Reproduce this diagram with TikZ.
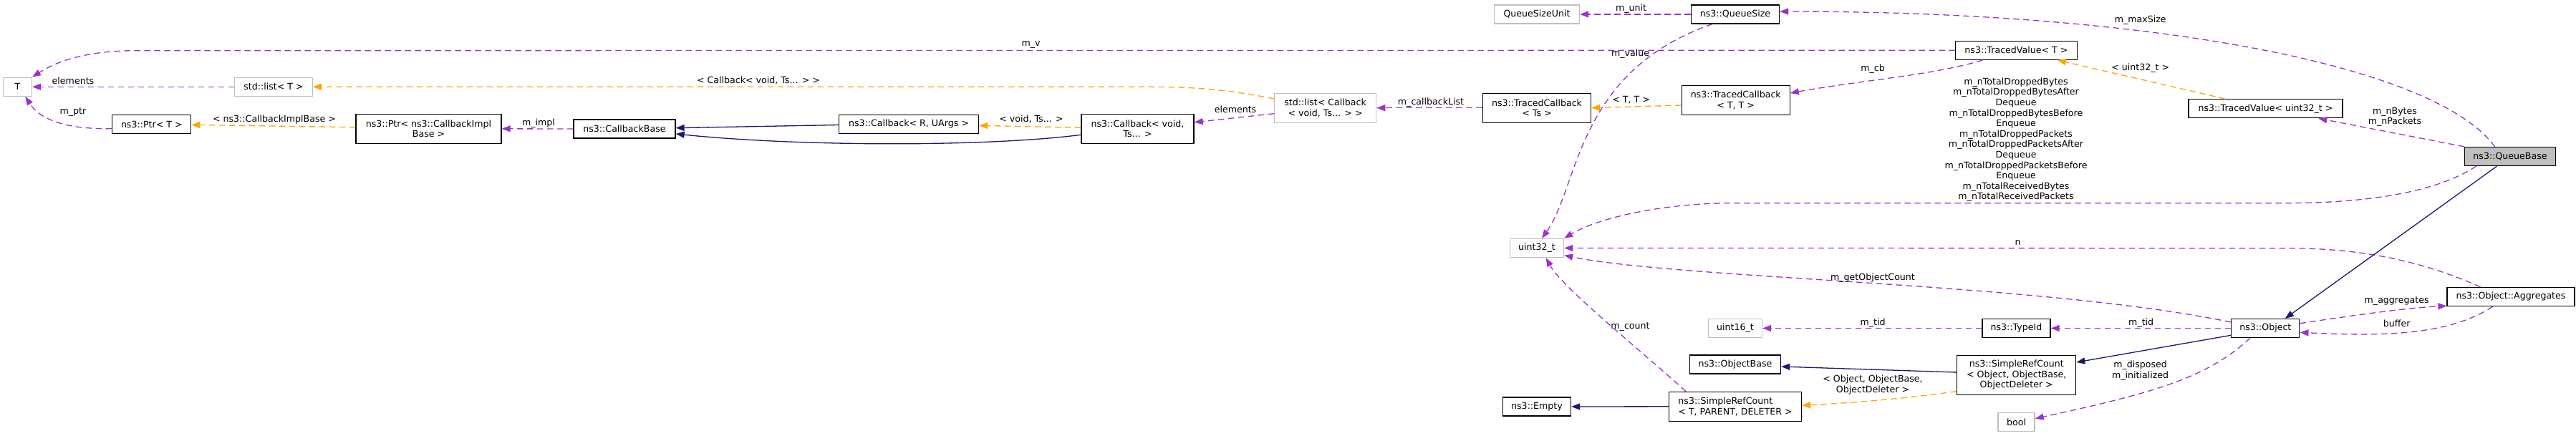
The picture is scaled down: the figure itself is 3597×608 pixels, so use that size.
\documentclass[tikz,border=0pt]{standalone}
\usepackage{fontspec}
\setmainfont{DejaVu Sans}
\usetikzlibrary{arrows.meta}
\definecolor{usecol}{HTML}{9A32CD}
\definecolor{tplcol}{HTML}{FFA500}
\definecolor{inhcol}{HTML}{191970}
\definecolor{extcol}{HTML}{BFBFBF}
\begin{document}
\begin{tikzpicture}[x=1pt,y=-1pt,
  every node/.style={font=\fontsize{12.6}{14.6}\selectfont, inner sep=0pt},
  cls/.style={draw=black, line width=1.3pt, fill=white, align=center},
  ext/.style={draw=extcol, line width=1.3pt, fill=white, align=center},
  cur/.style={draw=black, line width=1.3pt, fill=extcol, align=center},
  sz/.style 2 args={minimum width=#1pt, minimum height=#2pt},
  lbl/.style={align=center},
  tip/.style={-{Triangle[length=12pt,width=9pt]}},
  usearr/.style={tip, draw=usecol, line width=1.3pt, dash pattern=on 8.5pt off 5.5pt},
  tplarr/.style={tip, draw=tplcol, line width=1.3pt, dash pattern=on 8.5pt off 5.5pt},
  inharr/.style={tip, draw=inhcol, line width=1.3pt},
]
\useasboundingbox (0,0) rectangle (3597,608);

% nodes
\node[ext, sz={40}{26}] (T) at (24.4,121.3) {T};
\node[ext, sz={108.5}{26}] (listT) at (382,121.3) {std::list< T >};
\node[cls, sz={110}{26}] (PtrT) at (211.8,173.5) {ns3::Ptr< T >};
\node[cls, sz={203}{41}] (PtrCIB) at (598.5,179.8) {ns3::Ptr< ns3::CallbackImpl\\Base >};
\node[cls, sz={142}{26}] (CBB) at (872,180) {ns3::CallbackBase};
\node[cls, sz={195}{26}] (CbR) at (1269,173.5) {ns3::Callback< R, UArgs >};
\node[cls, sz={157}{41}] (CbV) at (1588.5,179.8) {ns3::Callback< void,\\Ts... >};
\node[ext, sz={142}{41}] (listCb) at (1850.6,150.7) {std::list< Callback\\< void, Ts... > >};
\node[ext, sz={119}{26}] (QSU) at (2146,20) {QueueSizeUnit};
\node[cls, sz={123}{26}] (QS) at (2423,20) {ns3::QueueSize};
\node[cls, sz={151}{41}] (TCTs) at (2146,150.7) {ns3::TracedCallback\\< Ts >};
\node[cls, sz={151}{41}] (TCTT) at (2423.7,139.8) {ns3::TracedCallback\\< T, T >};
\node[cls, sz={170}{26}] (TVT) at (2815.4,70.3) {ns3::TracedValue< T >};
\node[cls, sz={215}{26}] (TVu) at (3163.5,151.7) {ns3::TracedValue< uint32\_t >};
\node[cur, sz={127}{26}] (QB) at (3505,218.5) {ns3::QueueBase};
\node[ext, sz={75}{26}] (u32) at (2146,346.5) {uint32\_t};
\node[ext, sz={75}{26}] (u16) at (2423,458.5) {uint16\_t};
\node[cls, sz={127}{26}] (OB) at (2423,509) {ns3::ObjectBase};
\node[cls, sz={95}{26}] (Empty) at (2146,568) {ns3::Empty};
\node[cls, sz={185}{41}, align=left] (SRC) at (2423,567.8) {ns3::SimpleRefCount\\< T, PARENT, DELETER >};
\node[cls, sz={95}{26}] (TypeId) at (2815.4,458.5) {ns3::TypeId};
\node[cls, sz={95}{26}] (Obj) at (3163.3,458.5) {ns3::Object};
\node[cls, sz={178}{26}] (Agg) at (3506,414.5) {ns3::Object::Aggregates};
\node[cls, sz={166}{55}] (SRCO) at (2815.7,523.8) {ns3::SimpleRefCount\\< Object, ObjectBase,\\ObjectDeleter >};
\node[ext, sz={51}{26}] (bool) at (2815.6,589.5) {bool};

% edges
\draw[usearr] (TVT.west) -- (190,70.7) .. controls (130,70.7) and (85,82) .. (T.north east);
\node[lbl] (l1) at (1439.6,62.7) {m\_v};
\draw[usearr] (listT.west) -- (T.east);
\node[lbl] (l2) at (102,112.7) {elements};
\draw[usearr] ([yshift=-6pt]PtrT.west) .. controls (100,181) and (58,170) .. ([xshift=11pt]T.south);
\node[lbl] (l3) at (102,156.7) {m\_ptr};
\draw[tplarr] ([yshift=12.7pt]listCb.west) .. controls (1700,122) and (1650,121.3) .. (1590,121.3) -- (listT.east);
\node[lbl] (l4) at (1059,112.7) {< Callback< void, Ts... > >};
\draw[tplarr] ([yshift=2pt]PtrCIB.west) -- ([yshift=-0.8pt]PtrT.east);
\node[lbl] (l5) at (383,166.7) {< ns3::CallbackImplBase >};
\draw[usearr] (CBB.west) -- (PtrCIB.east);
\node[lbl] (l6) at (752,171.7) {m\_impl};
\draw[inharr] ([yshift=-1pt]CbR.west) -- ([yshift=1.3pt]CBB.east);
\draw[inharr] ([yshift=-8.5pt]CbV.west) .. controls (1380,205) and (1120,205) .. ([yshift=-7pt]CBB.east);
\draw[tplarr] ([yshift=1.5pt]CbV.west) -- ([yshift=-1.8pt]CbR.east);
\node[lbl] (l7) at (1440,166.7) {< void, Ts... >};
\draw[usearr] ([yshift=-8pt]listCb.west) -- ([yshift=9pt]CbV.east);
\node[lbl] (l8) at (1725,152.7) {elements};
\draw[usearr] (TCTs.west) -- (listCb.east);
\node[lbl] (l9) at (1998,142.7) {m\_callbackList};
\draw[tplarr] ([yshift=-7.2pt]TCTT.west) -- (TCTs.east);
\node[lbl] (l10) at (2277.6,140) {< T, T >};
\draw[usearr] ([xshift=38.6pt]TVT.south west) .. controls (2700,105) and (2600,112) .. ([yshift=9.8pt]TCTT.east);
\node[lbl] (l11) at (2615,96) {m\_cb};
\draw[usearr] (QS.west) -- (QSU.east);
\node[lbl] (l12) at (2277.6,11.7) {m\_unit};
\draw[usearr] ([xshift=30pt]QS.south west) .. controls (2200,100) and (2205,260) .. ([xshift=7pt]u32.north);
\node[lbl] (l13) at (2276.5,74.7) {m\_value};
\draw[usearr] ([xshift=-21.4pt]QB.north) .. controls (3400,90) and (3000,16) .. ([yshift=4pt]QS.east);
\node[lbl] (l14) at (2988.7,27.7) {m\_maxSize};
\draw[usearr] (QB.north west) -- ([xshift=-34.3pt]TVu.south east);
\node[lbl] (l15) at (3344,163.2) {m\_nBytes\\m\_nPackets};
\draw[tplarr] ([xshift=51.6pt]TVu.north west) -- ([xshift=-28.3pt]TVT.south east);
\node[lbl] (l16) at (2988.7,95) {< uint32\_t >};
\draw[usearr] ([xshift=16.8pt]QB.south west) .. controls (3400,270) and (3300,283.7) .. (3190,283.7) -- (2420,283.7) .. controls (2320,283.7) and (2230,305) .. (u32.north east);
\node[lbl] (l17) at (2815,195.3) {m\_nTotalDroppedBytes\\m\_nTotalDroppedBytesAfter\\Dequeue\\m\_nTotalDroppedBytesBefore\\Enqueue\\m\_nTotalDroppedPackets\\m\_nTotalDroppedPacketsAfter\\Dequeue\\m\_nTotalDroppedPacketsBefore\\Enqueue\\m\_nTotalReceivedBytes\\m\_nTotalReceivedPackets};
\draw[usearr] ([xshift=-42.5pt]Agg.north) .. controls (3350,350) and (3250,346.7) .. (3188,346.7) -- (u32.east);
\node[lbl] (l18) at (2817.6,339) {n};
\draw[usearr] ([yshift=8.5pt]Obj.west) .. controls (2850,395) and (2350,390) .. ([yshift=-10.2pt]u32.east);
\node[lbl] (l19) at (2615,388.3) {m\_getObjectCount};
\draw[usearr] (Obj.west) -- (TypeId.east);
\node[lbl] (l20) at (2989.7,450.7) {m\_tid};
\draw[usearr] (TypeId.west) -- (u16.east);
\node[lbl] (l21) at (2615,450.7) {m\_tid};
\draw[inharr] ([yshift=-9.8pt]Obj.west) -- ([yshift=-10.4pt]SRCO.north east);
\draw[inharr] ([yshift=3.8pt]SRCO.west) -- ([yshift=-3pt]OB.east);
\draw[tplarr] ([yshift=-22.9pt]SRCO.west) .. controls (2650,558) and (2580,563) .. ([yshift=1.5pt]SRC.east);
\node[lbl] (l22) at (2615,537.5) {< Object, ObjectBase,\\ObjectDeleter >};
\draw[inharr] (SRC.west) -- (Empty.east);
\draw[usearr] ([xshift=-69pt]SRC.north) .. controls (2280,480) and (2180,400) .. ([xshift=12.8pt]u32.south);
\node[lbl] (l23) at (2276.5,456.7) {m\_count};
\draw[inharr] ([xshift=-18.5pt]QB.south) -- ([xshift=27.5pt]Obj.north);
\draw[usearr] ([yshift=6.8pt]Obj.east) .. controls (3290,440) and (3360,430) .. ([yshift=-12.8pt]Agg.west);
\node[lbl] (l24) at (3346.6,420.7) {m\_aggregates};
\draw[usearr] ([xshift=-25.3pt]Agg.south) .. controls (3420,468) and (3330,470) .. ([yshift=-5.8pt]Obj.east);
\node[lbl] (l25) at (3346.6,451.3) {buffer};
\draw[usearr] ([xshift=-21.3pt]Obj.south) .. controls (3080,530) and (3000,550) .. ([yshift=4.8pt]bool.east);
\node[lbl] (l26) at (2988.6,517.5) {m\_disposed\\m\_initialized};
\end{tikzpicture}
\end{document}
